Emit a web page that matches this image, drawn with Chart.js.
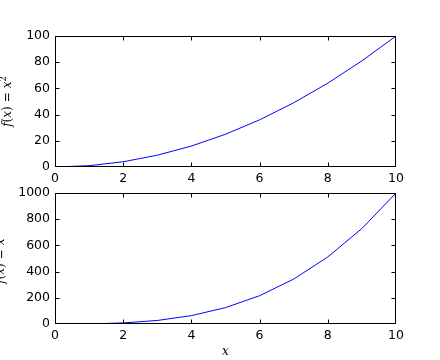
<!DOCTYPE html>
<html>
<head>
<meta charset="utf-8">
<script src="https://cdn.jsdelivr.net/npm/chart.js@4.4.1/dist/chart.umd.min.js"></script>
<style>
    html, body { margin: 0; padding: 0; background: #ffffff; }
    #wrap { position: relative; width: 440px; height: 360px; overflow: hidden; }
    canvas { position: absolute; left: 0; }
</style>
</head>
<body>
<div id="wrap">
    <canvas id="squareChart" width="440" height="200" style="top:0"></canvas>
    <canvas id="cubeChart" width="440" height="180" style="top:180px"></canvas>
</div>
<script>
// values
const xValues = [0, 1, 2, 3, 4, 5, 6, 7, 8, 9, 10];
const squareValues = [0, 1, 4, 9, 16, 25, 36, 49, 64, 81, 100];
const cubeValues = [0, 1, 8, 27, 64, 125, 216, 343, 512, 729, 1000];

const xTicks = [0, 2, 4, 6, 8, 10];
const squareTicks = [0, 20, 40, 60, 80, 100];
const cubeTicks = [0, 200, 400, 600, 800, 1000];

const tickFont = { family: 'DejaVu Sans', size: 12.5 };

// matplotlib classic look: black frame, inward ticks on all four sides
const framePlugin = {
    id: 'frame',
    afterDatasetsDraw(chart) {
        const { ctx, chartArea: a, scales } = chart;
        const L = Math.round(a.left) + 0.5, R = Math.round(a.right) - 0.5;
        const T = Math.round(a.top) + 0.5, B = Math.round(a.bottom) - 0.5;
        const clamp = (v, lo, hi) => Math.min(hi, Math.max(lo, v));
        const len = 4;
        ctx.save();
        ctx.strokeStyle = '#000000';
        ctx.lineWidth = 1;
        ctx.beginPath();
        scales.x.ticks.forEach(t => {
            const px = clamp(Math.round(scales.x.getPixelForValue(t.value)) + 0.5, L, R);
            ctx.moveTo(px, B); ctx.lineTo(px, B - len);
            ctx.moveTo(px, T); ctx.lineTo(px, T + len);
        });
        scales.y.ticks.forEach(t => {
            const py = clamp(Math.round(scales.y.getPixelForValue(t.value)) + 0.5, T, B);
            ctx.moveTo(L, py); ctx.lineTo(L + len, py);
            ctx.moveTo(R, py); ctx.lineTo(R - len, py);
        });
        ctx.stroke();
        ctx.strokeRect(L, T, R - L, B - T);
        ctx.restore();
    }
};

// draws something like mathtext f(x) = x^n, rotated, centred on cy
function drawMathLabel(ctx, power, baseX, cy) {
    const size = 12;
    const parts = [
        { t: 'f', it: true }, { t: '(' }, { t: 'x', it: true }, { t: ')' },
        { t: '=', gap: 4 }, { t: 'x', it: true }, { t: power, sup: true }
    ];
    const fontOf = p => (p.it ? 'italic ' : '') + (p.sup ? size * 0.7 : size) + 'px "DejaVu Serif"';
    let total = 0;
    parts.forEach(p => {
        ctx.font = fontOf(p);
        p.w = ctx.measureText(p.t).width;
        total += p.w + (p.gap || 0) * 2;
    });
    ctx.save();
    ctx.translate(baseX, cy);
    ctx.rotate(-Math.PI / 2);
    ctx.fillStyle = '#000000';
    ctx.textBaseline = 'alphabetic';
    let x = -total / 2;
    parts.forEach(p => {
        ctx.font = fontOf(p);
        x += p.gap || 0;
        ctx.fillText(p.t, x, p.sup ? -size * 0.45 : 0);
        x += p.w + (p.gap || 0);
    });
    ctx.restore();
}

function labelPlugin(power, baseX, xTitle) {
    return {
        id: 'labels',
        afterDraw(chart) {
            const { ctx, chartArea: a } = chart;
            drawMathLabel(ctx, power, baseX, (a.top + a.bottom) / 2);
            if (xTitle) {
                ctx.save();
                ctx.font = 'italic 12px "DejaVu Serif"';
                ctx.fillStyle = '#000000';
                ctx.textAlign = 'center';
                ctx.textBaseline = 'middle';
                ctx.fillText('x', (a.left + a.right) / 2, a.bottom + 28);
                ctx.restore();
            }
        }
    };
}

function makeChart(id, values, yTicks, yMax, padTop, xAxisHeight, power, labelX, xTitle) {
    const ctx = document.getElementById(id);
    return new Chart(ctx, {
        type: 'line',
        data: {
            datasets: [{
                data: xValues.map((x, i) => ({ x: x, y: values[i] })),
                borderColor: '#0000ff',
                borderWidth: 1,
                pointRadius: 0,
                tension: 0,
                fill: false
            }]
        },
        options: {
            responsive: false,
            animation: false,
            devicePixelRatio: 1,
            layout: { padding: { top: padTop, right: 44, left: 0, bottom: 0 } },
            plugins: { legend: { display: false }, tooltip: { enabled: false } },
            scales: {
                x: {
                    type: 'linear',
                    min: 0,
                    max: 10,
                    afterBuildTicks: s => { s.ticks = xTicks.map(v => ({ value: v })); },
                    afterFit: s => { s.height = xAxisHeight; },
                    grid: { display: false, drawTicks: false },
                    border: { display: false },
                    ticks: { color: '#000000', font: tickFont, padding: 4, maxRotation: 0, callback: v => String(v) }
                },
                y: {
                    type: 'linear',
                    min: 0,
                    max: yMax,
                    afterBuildTicks: s => { s.ticks = yTicks.map(v => ({ value: v })); },
                    afterFit: s => { s.width = 55; },
                    grid: { display: false, drawTicks: false },
                    border: { display: false },
                    ticks: { color: '#000000', font: tickFont, padding: 5, callback: v => String(v) }
                }
            }
        },
        plugins: [framePlugin, labelPlugin(power, labelX, xTitle)]
    });
}

makeChart('squareChart', squareValues, squareTicks, 100, 36, 33, '2', 11, false);
makeChart('cubeChart', cubeValues, cubeTicks, 1000, 13, 36, '3', 3.5, true);
</script>
</body>
</html>
